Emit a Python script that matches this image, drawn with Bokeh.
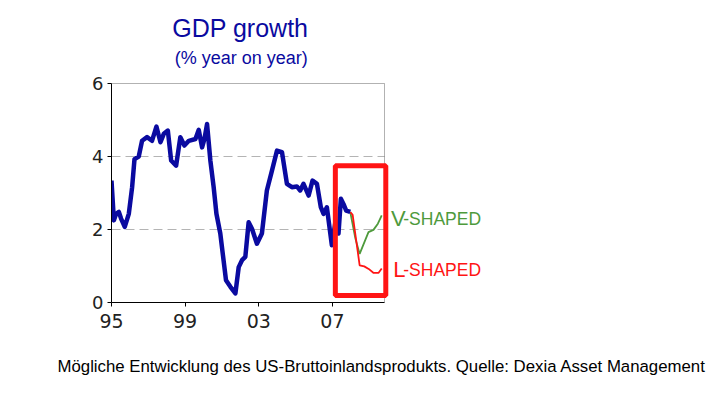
from bokeh.plotting import figure
from bokeh.models import Range1d, FixedTicker, Label, BoxAnnotation, Title
from bokeh.embed import file_html
from bokeh.resources import INLINE

# ---- data ----
blue_years = [1995.0, 1995.13, 1995.25, 1995.4, 1995.52, 1995.72, 1995.94, 1996.12, 1996.25,
              1996.48, 1996.66, 1996.93, 1997.2, 1997.44, 1997.66, 1997.84, 1998.06, 1998.24,
              1998.51, 1998.74, 1998.96, 1999.2, 1999.56, 1999.74, 1999.92, 2000.05, 2000.19,
              2000.37, 2000.55, 2000.7, 2000.91, 2001.22, 2001.46, 2001.73, 2001.91, 2002.09,
              2002.27, 2002.45, 2002.63, 2002.9, 2003.17, 2003.44, 2003.72, 2003.99, 2004.26,
              2004.53, 2004.8, 2005.07, 2005.25, 2005.43, 2005.71, 2005.92, 2006.16, 2006.37,
              2006.52, 2006.7, 2006.84, 2006.97, 2007.15, 2007.33, 2007.46, 2007.6, 2007.75,
              2007.97]
blue_vals = [3.34, 2.25, 2.43, 2.48, 2.3, 2.07, 2.43, 3.16, 3.93,
             4.0, 4.43, 4.53, 4.43, 4.82, 4.39, 4.62, 4.71, 3.89,
             3.75, 4.53, 4.3, 4.43, 4.48, 4.73, 4.25, 4.48, 4.89,
             3.89, 3.16, 2.43, 1.89, 0.61, 0.43, 0.25, 0.97, 1.16,
             1.25, 2.2, 2.02, 1.61, 1.89, 3.07, 3.62, 4.16, 4.12,
             3.25, 3.16, 3.18, 3.07, 3.25, 2.93, 3.34, 3.25, 2.61,
             2.43, 2.61, 2.07, 1.57, 2.16, 1.89, 2.84, 2.7, 2.52,
             2.48]
v_years = [2007.97, 2008.25, 2008.48, 2008.96, 2009.23, 2009.47, 2009.68]
v_vals = [2.48, 1.75, 1.33, 1.93, 1.99, 2.16, 2.39]
l_years = [2007.97, 2008.1, 2008.48, 2008.73, 2008.97, 2009.24, 2009.5, 2009.68]
l_vals = [2.48, 2.4, 1.02, 0.99, 0.92, 0.81, 0.81, 0.93]

x_ticks = [1995, 1999, 2003, 2007]
x_tick_labels = ["95", "99", "03", "07"]
y_ticks = [0, 2, 4, 6]
grid_levels = [2, 4]
x_start, x_end = 1995, 2009.83
y_start, y_end = 0, 6

title_text = "GDP growth"
subtitle_text = "(% year on year)"
caption_text = "Mögliche Entwicklung des US-Bruttoinlandsprodukts. Quelle: Dexia Asset Management"
v_label = ("V", "-SHAPED")
l_label = ("L", "-SHAPED")
box_bounds = dict(left=2007.16, right=2009.9, bottom=0.19, top=3.75)

BLUE = "#0a0aa0"
GREEN = "#4e9a3c"
RED = "#ff1414"

# ---- geometry (pixels) ----
W, H = 715, 399
LEFT = 111            # canvas x of x_start
AXIS_W = 273          # pixels from x_start to x_end
BOTTOM_PANEL = 97     # space below the y=0 line
AX_H = 219            # pixels from y=0 to y=6
frame_w = W - LEFT
frame_h = H - BOTTOM_PANEL
ppx = AXIS_W / (x_end - x_start)
ppy = AX_H / (y_end - y_start)

p = figure(width=W, height=H, output_backend="svg", toolbar_location=None,
           x_range=Range1d(x_start, x_start + frame_w / ppx),
           y_range=Range1d(y_start, y_start + frame_h / ppy),
           min_border_left=LEFT, min_border_right=0, min_border_top=0,
           min_border_bottom=BOTTOM_PANEL)
p.outline_line_color = None
p.background_fill_color = "white"
p.border_fill_color = "white"

# axes
p.xaxis.ticker = FixedTicker(ticks=x_ticks)
p.xaxis.major_label_overrides = dict(zip(x_ticks, x_tick_labels))
p.xaxis.bounds = (x_start, x_end)
p.yaxis.ticker = FixedTicker(ticks=y_ticks)
p.yaxis.bounds = (y_start, y_end)
for ax in (p.xaxis, p.yaxis):
    ax.axis_line_color = "black"
    ax.axis_line_width = 1
    ax.major_tick_line_color = "black"
    ax.major_tick_in = 0
    ax.major_tick_out = 4
    ax.minor_tick_line_color = None
    ax.major_label_text_font = "DejaVu Sans"
    ax.major_label_text_color = "#222222"
p.xaxis.major_label_text_font_size = "19px"
p.yaxis.major_label_text_font_size = "18px"
p.xaxis.major_label_standoff = 7
p.yaxis.major_label_standoff = 4

p.xgrid.grid_line_color = None
p.ygrid.grid_line_color = None

# dashed reference lines at the grid levels, limited to the plot area
p.segment(x0=[x_start] * len(grid_levels), x1=[x_end] * len(grid_levels),
          y0=grid_levels, y1=grid_levels,
          line_color="#b4b4b4", line_dash="9 5", line_width=1)

# plot-area border (top and right sides)
p.add_layout(BoxAnnotation(left=x_start, right=x_end, bottom=y_start, top=y_end,
                           fill_alpha=0, fill_color=None, line_color="black", line_width=1))

# lines
p.line(v_years, v_vals, line_color=GREEN, line_width=1.8)
p.line(l_years, l_vals, line_color=RED, line_width=1.8)
p.line(blue_years, blue_vals, line_color=BLUE, line_width=4.5, line_join="round")

# red box
p.add_layout(BoxAnnotation(**box_bounds, fill_alpha=0, fill_color=None,
                           line_color=RED, line_width=5, line_alpha=1))

def lab(fig, x, y, t, size, color, align="left", font="Liberation Sans"):
    fig.add_layout(Label(x=x, y=y, text=t, text_font=font, text_font_size=size,
                         text_color=color, text_align=align, text_baseline="alphabetic"))

lab(p, 2010.18, 2.29, v_label[0], "22px", GREEN)
lab(p, 2010.85, 2.29, v_label[1], "17.5px", GREEN)
lab(p, 2010.31, 0.90, l_label[0], "22px", RED)
lab(p, 2010.85, 0.90, l_label[1], "17.5px", RED)

lab(p, 2002.0, 7.53, title_text, "25px", BLUE, align="center")
lab(p, 2002.05, 6.70, subtitle_text, "18px", BLUE, align="center")

# caption below the axis
cap = Title(text=caption_text, align="left", offset=-54, standoff=48,
            text_font="Liberation Sans", text_font_size="16.8px",
            text_font_style="normal", text_color="black")
p.add_layout(cap, "below")

open("out.html", "w").write(file_html(p, INLINE))
